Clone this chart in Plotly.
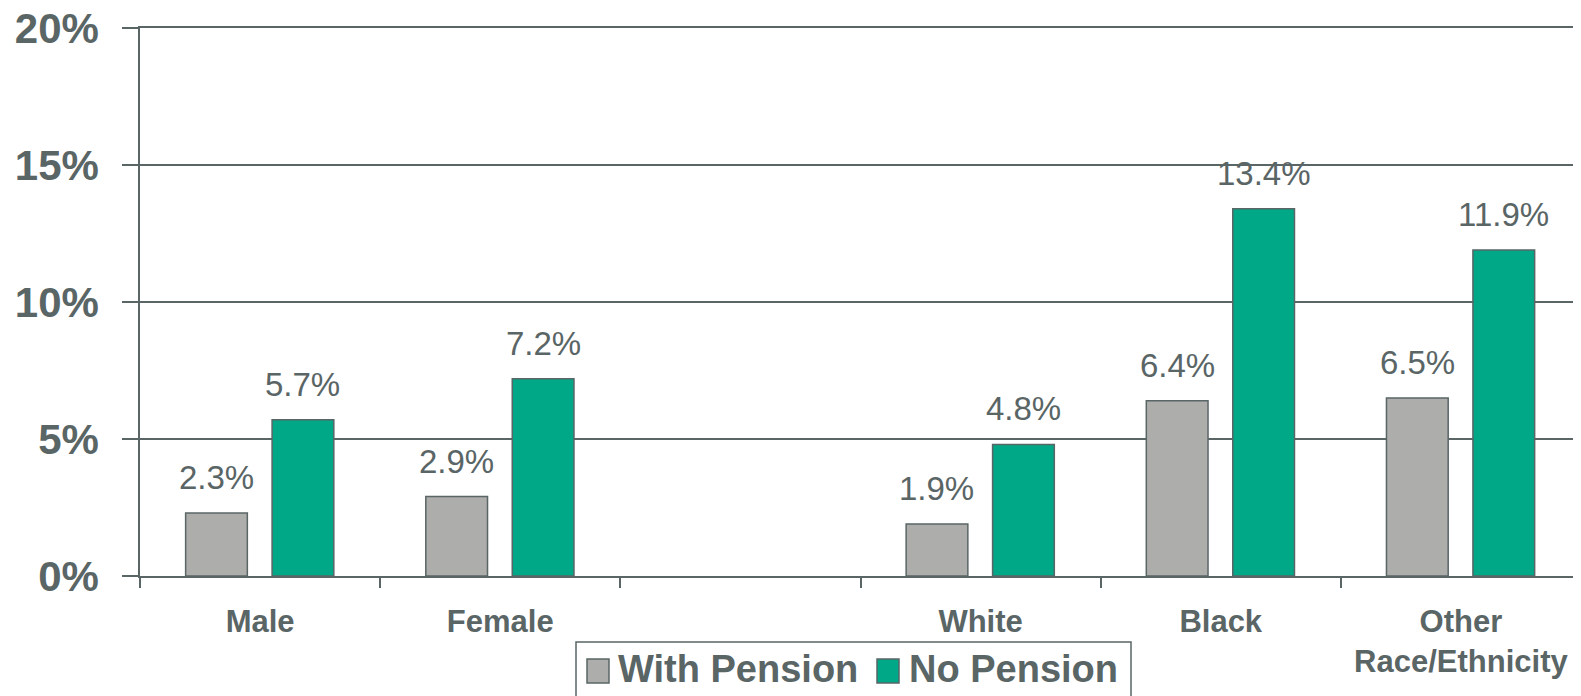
import plotly.graph_objects as go

categories = ["Male", "Female", " ", "White", "Black", "Other<br>Race/Ethnicity"]
with_pension = [2.3, 2.9, None, 1.9, 6.4, 6.5]
no_pension = [5.7, 7.2, None, 4.8, 13.4, 11.9]
y_tick_vals = [0, 5, 10, 15, 20]
y_tick_text = ["0%", "5%", "10%", "15%", "20%"]
series_names = ["With Pension", "No Pension"]

TXT = "#5A6566"
GRAY = "#ADADAB"
GREEN = "#00A887"
FONT = "Liberation Sans, Arial, sans-serif"

# page offset of the figure div (browser body margin)
PAGE_OFF = 8
W, H = 1581, 696
ML, MT = 140 - PAGE_OFF, 28 - PAGE_OFF
MR = PAGE_OFF
MB = H - (576 - PAGE_OFF)
PW, PH = W - ML - MR, H - MT - MB

BAR_W = 0.257
OFF_GRAY = -0.31
OFF_GREEN = 0.05

fig = go.Figure()
fig.add_trace(go.Bar(x=categories, y=with_pension, name=series_names[0],
                     offset=OFF_GRAY, width=BAR_W,
                     marker=dict(color=GRAY, line=dict(color=TXT, width=1.5)),
                     showlegend=False))
fig.add_trace(go.Bar(x=categories, y=no_pension, name=series_names[1],
                     offset=OFF_GREEN, width=BAR_W,
                     marker=dict(color=GREEN, line=dict(color=TXT, width=1.5)),
                     showlegend=False))

annotations = []
for i, (a, b) in enumerate(zip(with_pension, no_pension)):
    for v, off in ((a, OFF_GRAY), (b, OFF_GREEN)):
        if v is None:
            continue
        annotations.append(dict(x=i + off + BAR_W / 2, y=v, xref="x", yref="y",
                                text=f"{v:.1f}%", showarrow=False,
                                yanchor="bottom", xanchor="center", yshift=15,
                                font=dict(family=FONT, size=33, color=TXT)))

def px_x(p):
    return (p - PAGE_OFF - ML) / PW

def px_y(p):
    return (H - MB - (p - PAGE_OFF)) / PH

shapes = [
    dict(type="rect", xref="paper", yref="paper",
         x0=px_x(576), x1=px_x(1131), y0=px_y(642), y1=px_y(710),
         line=dict(color=TXT, width=1.5), fillcolor="rgba(0,0,0,0)"),
    dict(type="rect", xref="paper", yref="paper",
         x0=px_x(587), x1=px_x(609), y0=px_y(659), y1=px_y(683),
         line=dict(color=TXT, width=1.5), fillcolor=GRAY),
    dict(type="rect", xref="paper", yref="paper",
         x0=px_x(877), x1=px_x(899), y0=px_y(659), y1=px_y(683),
         line=dict(color=TXT, width=1.5), fillcolor=GREEN),
]
for name, xs in zip(series_names, (616, 907)):
    annotations.append(dict(x=px_x(xs), y=px_y(669), xref="paper", yref="paper",
                            text=f"<b>{name}</b>", showarrow=False,
                            xanchor="left", yanchor="middle",
                            font=dict(family=FONT, size=38, color=TXT)))

fig.update_layout(
    template="none",
    width=W, height=H,
    margin=dict(l=ML, r=MR, t=MT, b=MB, autoexpand=False),
    paper_bgcolor="white", plot_bgcolor="white",
    barmode="overlay",
    showlegend=False,
    annotations=annotations,
    shapes=shapes,
    xaxis=dict(type="category", categoryorder="array", categoryarray=categories,
               showline=True, mirror=True, linecolor=TXT, linewidth=1.5,
               ticks="outside", ticklen=10, tickwidth=1.5, tickcolor=TXT,
               tickson="boundaries", showgrid=False, automargin=False,
               ticklabelstandoff=17,
               tickfont=dict(family=FONT, size=31, color=TXT, weight="bold")),
    yaxis=dict(range=[0, 20], tickvals=y_tick_vals, ticktext=y_tick_text,
               showline=True, linecolor=TXT, linewidth=1.5,
               ticks="outside", ticklen=16, tickwidth=1.5, tickcolor=TXT,
               showgrid=True, gridcolor=TXT, gridwidth=1.5, zeroline=False,
               automargin=False, ticklabelstandoff=15,
               ticklabeloverflow="allow",
               tickfont=dict(family=FONT, size=42, color=TXT, weight="bold")),
)

fig.write_html("out.html")
